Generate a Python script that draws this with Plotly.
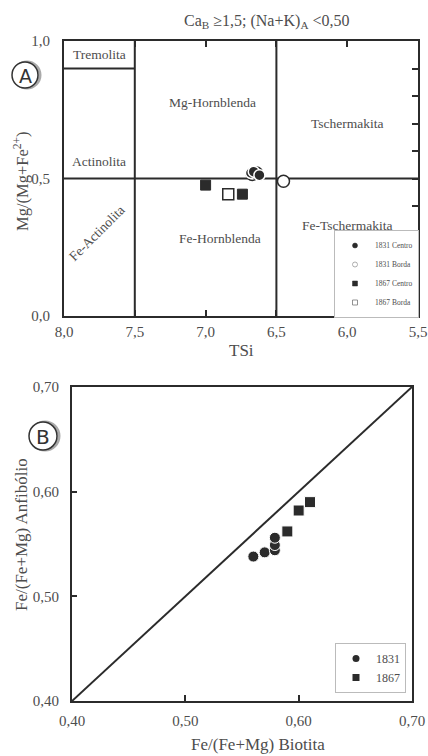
import plotly.graph_objects as go

# ---------------- Data: panel A (TSi vs Mg/(Mg+Fe2+)) ----------------
a_1831_centro_tsi = [6.68, 6.66, 6.62]
a_1831_centro_mg = [0.520, 0.525, 0.512]
a_1831_borda_tsi = [6.67, 6.64, 6.45]
a_1831_borda_mg = [0.515, 0.520, 0.490]
a_1867_centro_tsi = [7.00, 6.74]
a_1867_centro_mg = [0.476, 0.443]
a_1867_borda_tsi = [6.84]
a_1867_borda_mg = [0.443]

# classification boundaries (diagram fields)
a_tsi_bounds = [7.5, 6.5]
a_mg_bound = 0.5
a_tremolita_bound = 0.9

a_xtick_vals = [8.0, 7.5, 7.0, 6.5, 6.0, 5.5]
a_xtick_text = ["8,0", "7,5", "7,0", "6,5", "6,0", "5,5"]
a_ytick_vals = [0.0, 0.5, 1.0]
a_ytick_text = ["0,0", "0,5", "1,0"]

a_fields = ["Tremolita", "Actinolita", "Fe-Actinolita", "Mg-Hornblenda",
            "Fe-Hornblenda", "Tschermakita", "Fe-Tschermakita"]
a_field_x = [7.75, 7.75, 7.77, 6.95, 6.9, 6.0, 6.0]
a_field_y = [0.95, 0.56, 0.30, 0.775, 0.28, 0.70, 0.33]
a_field_angle = [0, 0, -45, 0, 0, 0, 0]

# ---------------- Data: panel B (biotite vs amphibole) ----------------
b_1831_bt = [0.560, 0.570, 0.579, 0.579, 0.579]
b_1831_anf = [0.538, 0.542, 0.544, 0.549, 0.556]
b_1867_bt = [0.590, 0.600, 0.610]
b_1867_anf = [0.562, 0.582, 0.590]
b_diag = [0.40, 0.70]

b_tick_vals = [0.40, 0.50, 0.60, 0.70]
b_tick_text = ["0,40", "0,50", "0,60", "0,70"]

W, H = 428, 756
SERIF = "Liberation Serif"
INK = "#2b2b2b"
TXT = "#4d4d4d"


def px(v):
    return v / W


def py(v):
    return 1 - v / H


fig = go.Figure()

line_style = dict(color=INK, width=2)

# ---- Panel A boundaries (drawn on the data axes) ----
for xb in a_tsi_bounds:
    fig.add_trace(go.Scatter(x=[xb, xb], y=[0, 1], mode="lines", line=line_style,
                             showlegend=False, hoverinfo="skip", xaxis="x", yaxis="y"))
fig.add_trace(go.Scatter(x=[8.0, 5.5], y=[a_mg_bound, a_mg_bound], mode="lines",
                         line=line_style, showlegend=False, hoverinfo="skip",
                         xaxis="x", yaxis="y"))
fig.add_trace(go.Scatter(x=[8.0, a_tsi_bounds[0]], y=[a_tremolita_bound, a_tremolita_bound],
                         mode="lines", line=line_style, showlegend=False,
                         hoverinfo="skip", xaxis="x", yaxis="y"))

# ---- Panel A points ----
a_series = {
    "1831 Centro": (a_1831_centro_tsi, a_1831_centro_mg,
                    dict(symbol="circle", size=11, color=INK, line=dict(color="white", width=1.5)),
                    dict(symbol="circle", size=5, color=INK, line=dict(color=INK, width=0.5))),
    "1831 Borda": (a_1831_borda_tsi, a_1831_borda_mg,
                   dict(symbol="circle", size=12, color="white", line=dict(color=INK, width=1.5)),
                   dict(symbol="circle", size=5, color="white", line=dict(color="#999", width=0.8))),
    "1867 Centro": (a_1867_centro_tsi, a_1867_centro_mg,
                    dict(symbol="square", size=10, color=INK, line=dict(color=INK, width=1)),
                    dict(symbol="square", size=5, color=INK, line=dict(color=INK, width=0.5))),
    "1867 Borda": (a_1867_borda_tsi, a_1867_borda_mg,
                   dict(symbol="square", size=11, color="white", line=dict(color=INK, width=1.5)),
                   dict(symbol="square", size=5, color="white", line=dict(color="#777", width=0.8))),
}
# data markers (open rims underneath the filled ones, as in the original)
for name in ["1831 Borda", "1831 Centro", "1867 Centro", "1867 Borda"]:
    xs, ys, mk, _ = a_series[name]
    fig.add_trace(go.Scatter(x=xs, y=ys, mode="markers", name=name, legendgroup=name,
                             showlegend=False, marker=mk, xaxis="x", yaxis="y"))
# legend entries with small symbols
for name in ["1831 Centro", "1831 Borda", "1867 Centro", "1867 Borda"]:
    lmk = a_series[name][3]
    fig.add_trace(go.Scatter(x=[None], y=[None], mode="markers", name=name,
                             legendgroup=name, legend="legend", marker=lmk,
                             xaxis="x", yaxis="y"))

# ---- Panel B ----
fig.add_trace(go.Scatter(x=b_diag, y=b_diag, mode="lines", line=line_style,
                         showlegend=False, hoverinfo="skip", xaxis="x2", yaxis="y2"))
b_series = [
    ("1831", b_1831_bt, b_1831_anf, "circle"),
    ("1867", b_1867_bt, b_1867_anf, "square"),
]
for name, xs, ys, sym in b_series:
    fig.add_trace(go.Scatter(x=xs, y=ys, mode="markers", name=name, legendgroup=name,
                             showlegend=False,
                             marker=dict(symbol=sym, size=11, color=INK,
                                         line=dict(color="white", width=1)),
                             xaxis="x2", yaxis="y2"))
    fig.add_trace(go.Scatter(x=[None], y=[None], mode="markers", name=name,
                             legendgroup=name, legend="legend2",
                             marker=dict(symbol=sym, size=7, color=INK),
                             xaxis="x2", yaxis="y2"))

# scale carrier for the right-hand minor ticks of panel A
fig.add_trace(go.Scatter(x=[None], y=[None], xaxis="x", yaxis="y3",
                         showlegend=False, hoverinfo="skip"))

# plot-area pixel boxes
ax_l, ax_r, ax_t, ax_b = 64, 418, 41, 316
bx_l, bx_r, bx_t, bx_b = 72, 412, 387, 701

tickfont = dict(family=SERIF, size=15, color=TXT)
common = dict(showgrid=False, zeroline=False, automargin=False)

fig.update_layout(
    width=W, height=H,
    margin=dict(l=0, r=0, t=0, b=0, autoexpand=False),
    paper_bgcolor="white", plot_bgcolor="white",
    font=dict(family=SERIF, color=TXT),
    xaxis=dict(domain=[px(ax_l), px(ax_r)], range=[8.0, 5.5], anchor="y",
               tickvals=a_xtick_vals, ticktext=a_xtick_text, tickfont=tickfont,
               ticks="inside", ticklen=6, tickwidth=1.5, tickcolor=INK,
               ticklabelstandoff=1,
               showline=True, linewidth=2, linecolor=INK, mirror="ticks", **common),
    yaxis=dict(domain=[py(ax_b), py(ax_t)], range=[0, 1], anchor="x",
               tickvals=a_ytick_vals, ticktext=a_ytick_text, tickfont=tickfont,
               ticks="", ticklabelstandoff=9,
               showline=True, linewidth=2, linecolor=INK, mirror=True, **common),
    yaxis3=dict(overlaying="y", side="right", anchor="x", range=[0, 1],
                dtick=0.1, tick0=0, ticks="inside", ticklen=6, tickwidth=1.5,
                tickcolor=INK, showticklabels=False, showline=False, **common),
    xaxis2=dict(domain=[px(bx_l), px(bx_r)], range=[0.40, 0.70], anchor="y2",
                tickvals=b_tick_vals, ticktext=b_tick_text, tickfont=tickfont,
                ticks="inside", ticklen=6, tickwidth=1.5, tickcolor=INK,
                ticklabelstandoff=5,
                showline=True, linewidth=2, linecolor=INK, mirror=True, **common),
    yaxis2=dict(domain=[py(bx_b), py(bx_t)], range=[0.40, 0.70], anchor="x2",
                tickvals=b_tick_vals, ticktext=b_tick_text, tickfont=tickfont,
                ticks="inside", ticklen=5, tickwidth=1.5, tickcolor=INK,
                ticklabelstandoff=8,
                showline=True, linewidth=2, linecolor=INK, mirror=True, **common),
    legend=dict(x=px(419), y=py(318), xanchor="right", yanchor="bottom",
                bgcolor="white", bordercolor="#bbbbbb", borderwidth=1,
                font=dict(family=SERIF, size=7.5, color=TXT),
                itemsizing="trace", tracegroupgap=0, itemwidth=30),
    legend2=dict(x=px(335), y=py(643), xanchor="left", yanchor="top",
                 bgcolor="white", bordercolor="#bbbbbb", borderwidth=1,
                 font=dict(family=SERIF, size=12, color=TXT),
                 itemsizing="trace", tracegroupgap=0, itemwidth=30),
)

annotations = []
for t, xv, yv, ang in zip(a_fields, a_field_x, a_field_y, a_field_angle):
    annotations.append(dict(text=t, x=xv, y=yv, xref="x", yref="y", showarrow=False,
                            textangle=ang, xanchor="center", yanchor="middle",
                            font=dict(family=SERIF, size=13.5, color=TXT)))


def label(text, x, y, size, angle=0, family=SERIF, color=TXT):
    return dict(text=text, x=px(x), y=py(y), xref="paper", yref="paper",
                showarrow=False, textangle=angle, xanchor="center", yanchor="middle",
                font=dict(family=family, size=size, color=color))


annotations += [
    label("Ca<sub>B</sub> ≥1,5; (Na+K)<sub>A</sub> &lt;0,50", 267, 22, 16),
    label("TSi", 241, 350, 17),
    label("Mg/(Mg+Fe<sup>2+</sup>)", 21, 181, 16.5, angle=-90),
    label("Fe/(Fe+Mg) Biotita", 258, 744, 17),
    label("Fe/(Fe+Mg) Anfibólio", 21, 535, 17, angle=-90),
    label("A", 25, 76, 19, family="DejaVu Sans", color="#333"),
    label("B", 43, 437, 20, family="DejaVu Sans", color="#333"),
]
fig.update_layout(annotations=annotations)

shapes = []
for cx, cy, r in [(25, 75, 13), (43, 436, 14)]:
    shapes.append(dict(type="circle", xref="paper", yref="paper",
                       x0=px(cx - r + 2), x1=px(cx + r + 2), y0=py(cy + r), y1=py(cy - r),
                       line=dict(color="#aaaaaa", width=3), fillcolor="rgba(0,0,0,0)"))
    shapes.append(dict(type="circle", xref="paper", yref="paper",
                       x0=px(cx - r), x1=px(cx + r), y0=py(cy + r), y1=py(cy - r),
                       line=dict(color="#333333", width=1.5), fillcolor="white"))
fig.update_layout(shapes=shapes)

# remove the browser's default page margin so the figure fills the window exactly
fig.write_html("out.html", config={"displayModeBar": False},
               post_script="document.body.style.margin='0';")
